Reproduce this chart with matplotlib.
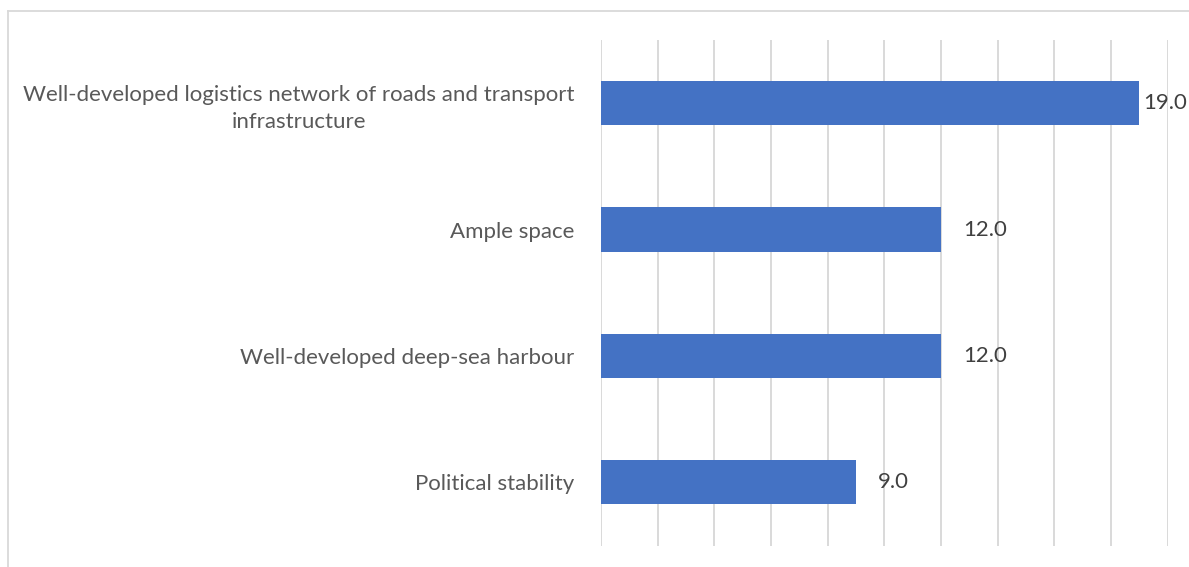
import matplotlib
matplotlib.use("Agg")
import matplotlib.pyplot as plt
from matplotlib.lines import Line2D

categories = [
    "Well-developed logistics network of roads and transport\ninfrastructure",
    "Ample space",
    "Well-developed deep-sea harbour",
    "Political stability",
]
values = [19.0, 12.0, 12.0, 9.0]
x_ticks = list(range(0, 21, 2))

BAR_COLOR = "#4472C4"
GRID_COLOR = "#D9D9D9"
LABEL_COLOR = "#595959"
VALUE_COLOR = "#404040"
FONT = ["Lato", "DejaVu Sans"]

W, H, DPI = 1189, 567, 100
fig = plt.figure(figsize=(W / DPI, H / DPI), dpi=DPI)
fig.patch.set_facecolor("white")

# chart-area frame (top and left edges visible)
fx0, fy0 = 7.5 / W, 1 - 10.5 / H
fig.add_artist(Line2D([fx0, 1.0], [fy0, fy0], transform=fig.transFigure,
                      color=GRID_COLOR, lw=1.3))
fig.add_artist(Line2D([fx0, fx0], [fy0, 0.0], transform=fig.transFigure,
                      color=GRID_COLOR, lw=1.3))

left, right = 601 / W, 1167.7 / W
top, bottom = 1 - 40 / H, 1 - 545.5 / H
ax = fig.add_axes([left, bottom, right - left, top - bottom])

y = list(range(len(categories)))
ax.barh(y, values, height=0.35, color=BAR_COLOR, zorder=3)

ax.set_xlim(0, 20)
ax.set_ylim(len(categories) - 0.5, -0.5)
for xv in x_ticks:
    ax.axvline(xv, color=GRID_COLOR, lw=1.4, zorder=1)

for s in ax.spines.values():
    s.set_visible(False)
ax.set_xticks([])
ax.set_yticks(y)
ax.set_yticklabels(categories, fontsize=16, color=LABEL_COLOR,
                   family=FONT, multialignment="center", linespacing=1.45)
ax.tick_params(axis="y", length=0, pad=19)

# value labels just past each bar end, kept inside the figure
fig.canvas.draw()
renderer = fig.canvas.get_renderer()
for yi, v in zip(y, values):
    t = ax.annotate(f"{v:.1f}", xy=(v, yi), xytext=(16, 0),
                    textcoords="offset points", ha="left", va="center",
                    fontsize=16, color=VALUE_COLOR, family=FONT, zorder=4)
    bb = t.get_window_extent(renderer)
    limit = W - 2
    if bb.x1 > limit:
        shift = (bb.x1 - limit) * 72 / DPI
        t.set_position((16 - shift, 0))

fig.savefig("out.png", dpi=DPI, facecolor="white")
